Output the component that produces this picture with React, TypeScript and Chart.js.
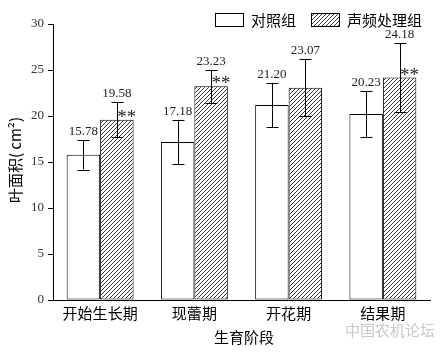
import React, { useEffect, useRef } from "react";
import { Chart, registerables } from "chart.js";

Chart.register(...registerables);

const categories = ["开始生长期", "现蕾期", "开花期", "结果期"];
const controlValues = [15.78, 17.18, 21.2, 20.23];
const treatmentValues = [19.58, 23.23, 23.07, 24.18];
const controlErrors = [1.6, 2.4, 2.4, 2.5];
const treatmentErrors = [1.9, 1.8, 3.1, 3.75];
const significance = ["**", "**", "", "**"];
const seriesNames = ["对照组", "声频处理组"];
const yTitle = "叶面积( cm²)";
const xTitle = "生育阶段";
const watermark = "中国农机论坛";

function makeHatch(): CanvasPattern | string {
  const c = document.createElement("canvas");
  c.width = 4;
  c.height = 4;
  const g = c.getContext("2d");
  if (!g) return "#fff";
  g.fillStyle = "#fff";
  g.fillRect(0, 0, 4, 4);
  g.strokeStyle = "#000";
  g.lineWidth = 0.8;
  g.beginPath();
  g.moveTo(0, 4);
  g.lineTo(4, 0);
  g.moveTo(-1, 1);
  g.lineTo(1, -1);
  g.moveTo(3, 5);
  g.lineTo(5, 3);
  g.stroke();
  const p = g.createPattern(c, "repeat");
  return p || "#fff";
}

export default function App() {
  const ref = useRef<HTMLCanvasElement>(null);
  useEffect(() => {
    if (!ref.current) return;
    const hatch = makeHatch();
    const errs = [controlErrors, treatmentErrors];
    const serif = "'Liberation Serif', 'Times New Roman', serif";
    const sans = "'Noto Sans CJK SC', 'Noto Sans', sans-serif";

    const overlay = {
      id: "overlay",
      afterDatasetsDraw(chart: any) {
        const ctx = chart.ctx as CanvasRenderingContext2D;
        const ys = chart.scales.y;
        ctx.save();
        [0, 1].forEach((di) => {
          const meta = chart.getDatasetMeta(di);
          meta.data.forEach((bar: any, j: number) => {
            const v = chart.data.datasets[di].data[j] as number;
            const e = errs[di][j];
            const top = ys.getPixelForValue(v + e);
            const bot = ys.getPixelForValue(v - e);
            const x = Math.round(bar.x) + 0.5;
            ctx.strokeStyle = "#000";
            ctx.lineWidth = 1;
            ctx.beginPath();
            ctx.moveTo(x, top);
            ctx.lineTo(x, bot);
            ctx.moveTo(x - 6, Math.round(top) + 0.5);
            ctx.lineTo(x + 6, Math.round(top) + 0.5);
            ctx.moveTo(x - 6, Math.round(bot) + 0.5);
            ctx.lineTo(x + 6, Math.round(bot) + 0.5);
            ctx.stroke();
            ctx.fillStyle = "#222";
            ctx.font = `13px ${serif}`;
            ctx.textAlign = "center";
            ctx.textBaseline = "bottom";
            ctx.fillText(v.toFixed(2), bar.x, top - 2);
            if (di === 1 && significance[j]) {
              ctx.font = `19px ${serif}`;
              ctx.textBaseline = "middle";
              ctx.fillText(significance[j], bar.x + 10, bar.y - 2);
            }
          });
        });
        // legend
        ctx.lineWidth = 1;
        ctx.strokeStyle = "#000";
        ctx.fillStyle = "#fff";
        ctx.fillRect(215.5, 13.5, 28, 13);
        ctx.strokeRect(215.5, 13.5, 28, 13);
        ctx.fillStyle = hatch as any;
        ctx.fillRect(311.5, 13.5, 28, 13);
        ctx.strokeRect(311.5, 13.5, 28, 13);
        ctx.fillStyle = "#000";
        ctx.font = `15px ${sans}`;
        ctx.textAlign = "left";
        ctx.textBaseline = "middle";
        ctx.fillText(seriesNames[0], 251, 20);
        ctx.fillText(seriesNames[1], 347, 20);
        // axis titles
        ctx.textAlign = "center";
        ctx.fillText(xTitle, 244, 337);
        ctx.save();
        ctx.translate(15, 160);
        ctx.rotate(-Math.PI / 2);
        ctx.fillText(yTitle, 0, 0);
        ctx.restore();
        // watermark
        ctx.fillStyle = "#c8c8c8";
        ctx.font = `15px ${sans}`;
        ctx.textAlign = "left";
        ctx.fillText(watermark, 345, 330);
        ctx.restore();
      },
    };

    const chart = new Chart(ref.current, {
      type: "bar",
      data: {
        labels: categories,
        datasets: [
          {
            label: seriesNames[0],
            data: controlValues,
            backgroundColor: "#fff",
            borderColor: "#000",
            borderWidth: 1,
            borderSkipped: false,
          },
          {
            label: seriesNames[1],
            data: treatmentValues,
            backgroundColor: hatch as any,
            borderColor: "#000",
            borderWidth: 1,
            borderSkipped: false,
          },
        ],
      },
      options: {
        responsive: false,
        animation: false,
        layout: { padding: { left: 8, right: 11, top: 24, bottom: 0 } },
        datasets: { bar: { categoryPercentage: 0.71, barPercentage: 1 } },
        plugins: {
          legend: { display: false },
          title: { display: false },
          tooltip: { enabled: false },
        },
        scales: {
          x: {
            grid: { display: false, drawTicks: false },
            border: { display: true, color: "#000", width: 1 },
            ticks: {
              color: "#000",
              font: { family: sans, size: 15 },
              padding: 4,
            },
            afterFit: (s: any) => {
              s.height = 52;
            },
          },
          y: {
            min: 0,
            max: 30,
            grid: {
              drawOnChartArea: false,
              drawTicks: true,
              tickLength: 5,
              color: "#000",
            },
            border: { display: true, color: "#000", width: 1 },
            ticks: {
              stepSize: 5,
              color: "#333",
              font: { family: serif, size: 13 },
              padding: 4,
            },
            afterFit: (s: any) => {
              s.width = 45;
            },
          },
        },
      },
      plugins: [overlay],
    });
    return () => chart.destroy();
  }, []);

  return (
    <div style={{ position: "fixed", left: 0, top: 0, width: 441, height: 352, background: "#fff" }}>
      <canvas ref={ref} width={441} height={352} style={{ width: 441, height: 352, display: "block" }} />
    </div>
  );
}
